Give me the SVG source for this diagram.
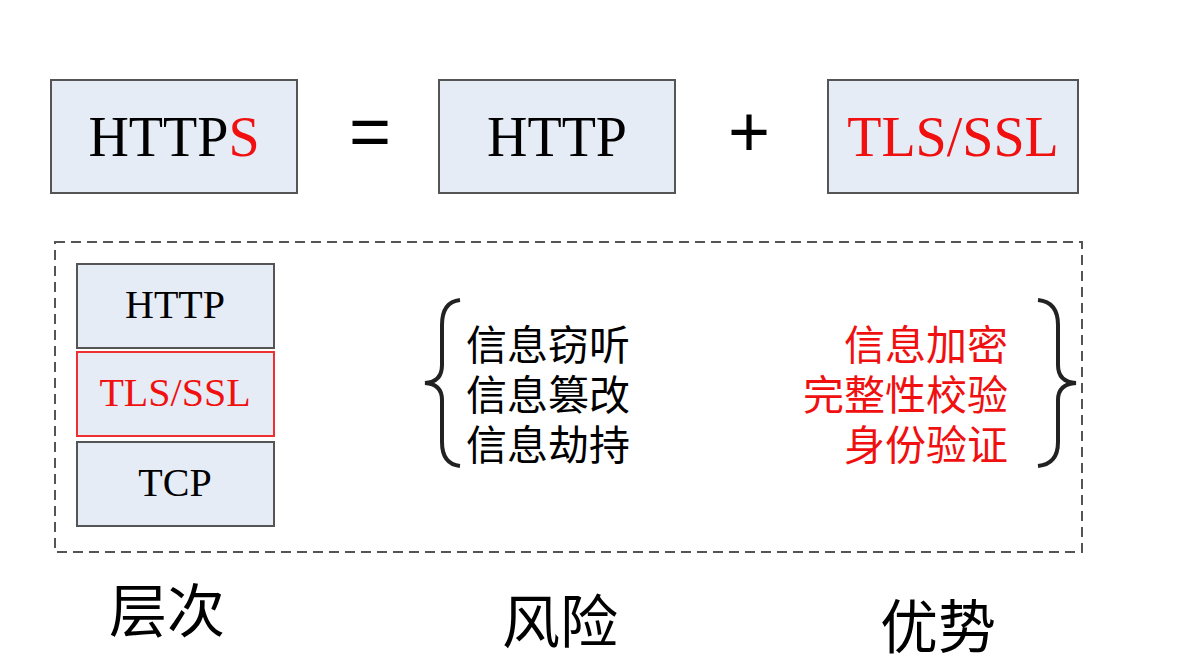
<svg xmlns="http://www.w3.org/2000/svg" width="1180" height="672" viewBox="0 0 1180 672">
<style>
.box{fill:#e6ecf6;stroke:#555;stroke-width:2}
.big{font-family:"Liberation Serif",serif;font-size:56px;text-anchor:middle}
.mid{font-family:"Liberation Serif",serif;font-size:40px;text-anchor:middle}
.cn{font-family:"Noto Sans CJK SC",sans-serif;font-size:41px}
.lab{font-family:"Noto Sans CJK SC",sans-serif;font-size:58px;text-anchor:middle}
.red{fill:#f01010}
</style>
<rect width="1180" height="672" fill="#fff"/>
<g id="https"><rect class="box" x="51" y="80" width="246" height="113"/><text class="big" x="174" y="156">HTTP<tspan class="red">S</tspan></text></g>
<g id="eq"><text x="370" y="156" style="font-family:'Liberation Sans';font-size:72px;text-anchor:middle">=</text></g>
<g id="http"><rect class="box" x="439" y="80" width="236" height="113"/><text class="big" x="557" y="156">HTTP</text></g>
<g id="plus"><text x="749" y="156" style="font-family:'Liberation Sans';font-size:72px;text-anchor:middle">+</text></g>
<g id="tls"><rect class="box" x="828" y="80" width="250" height="113"/><text class="big red" x="953" y="156">TLS/SSL</text></g>
<g id="frame"><rect x="55" y="242" width="1027" height="310" fill="none" stroke="#555" stroke-width="2" stroke-dasharray="10,6"/></g>
<g id="s-http"><rect class="box" x="77" y="264" width="197" height="84"/><text class="mid" x="175" y="318">HTTP</text></g>
<g id="s-tls"><rect x="77" y="352" width="197" height="84" fill="#e6ecf6" stroke="#f03030" stroke-width="2"/><text class="mid red" x="175" y="406">TLS/SSL</text></g>
<g id="s-tcp"><rect class="box" x="77" y="442" width="197" height="84"/><text class="mid" x="175" y="496">TCP</text></g>
<g id="risk">
<path d="M460 300 Q442 302 442 325 L442 365 Q442 382 425 383 Q442 384 442 400 L442 442 Q442 464 460 466" fill="none" stroke="#222" stroke-width="4"/>
<text class="cn" x="466" y="360">信息窃听</text>
<text class="cn" x="466" y="410">信息篡改</text>
<text class="cn" x="466" y="460">信息劫持</text>
</g>
<g id="adv">
<text class="cn red" x="1008" y="360" text-anchor="end">信息加密</text>
<text class="cn red" x="1008" y="410" text-anchor="end">完整性校验</text>
<text class="cn red" x="1008" y="460" text-anchor="end">身份验证</text>
<path d="M1038 300 Q1058 302 1058 325 L1058 365 Q1058 382 1076 383 Q1058 384 1058 400 L1058 442 Q1058 464 1038 466" fill="none" stroke="#222" stroke-width="4"/>
</g>
<g id="labels">
<text class="lab" x="167" y="632">层次</text>
<text class="lab" x="560" y="643">风险</text>
<text class="lab" x="938" y="648">优势</text>
</g>
</svg>
